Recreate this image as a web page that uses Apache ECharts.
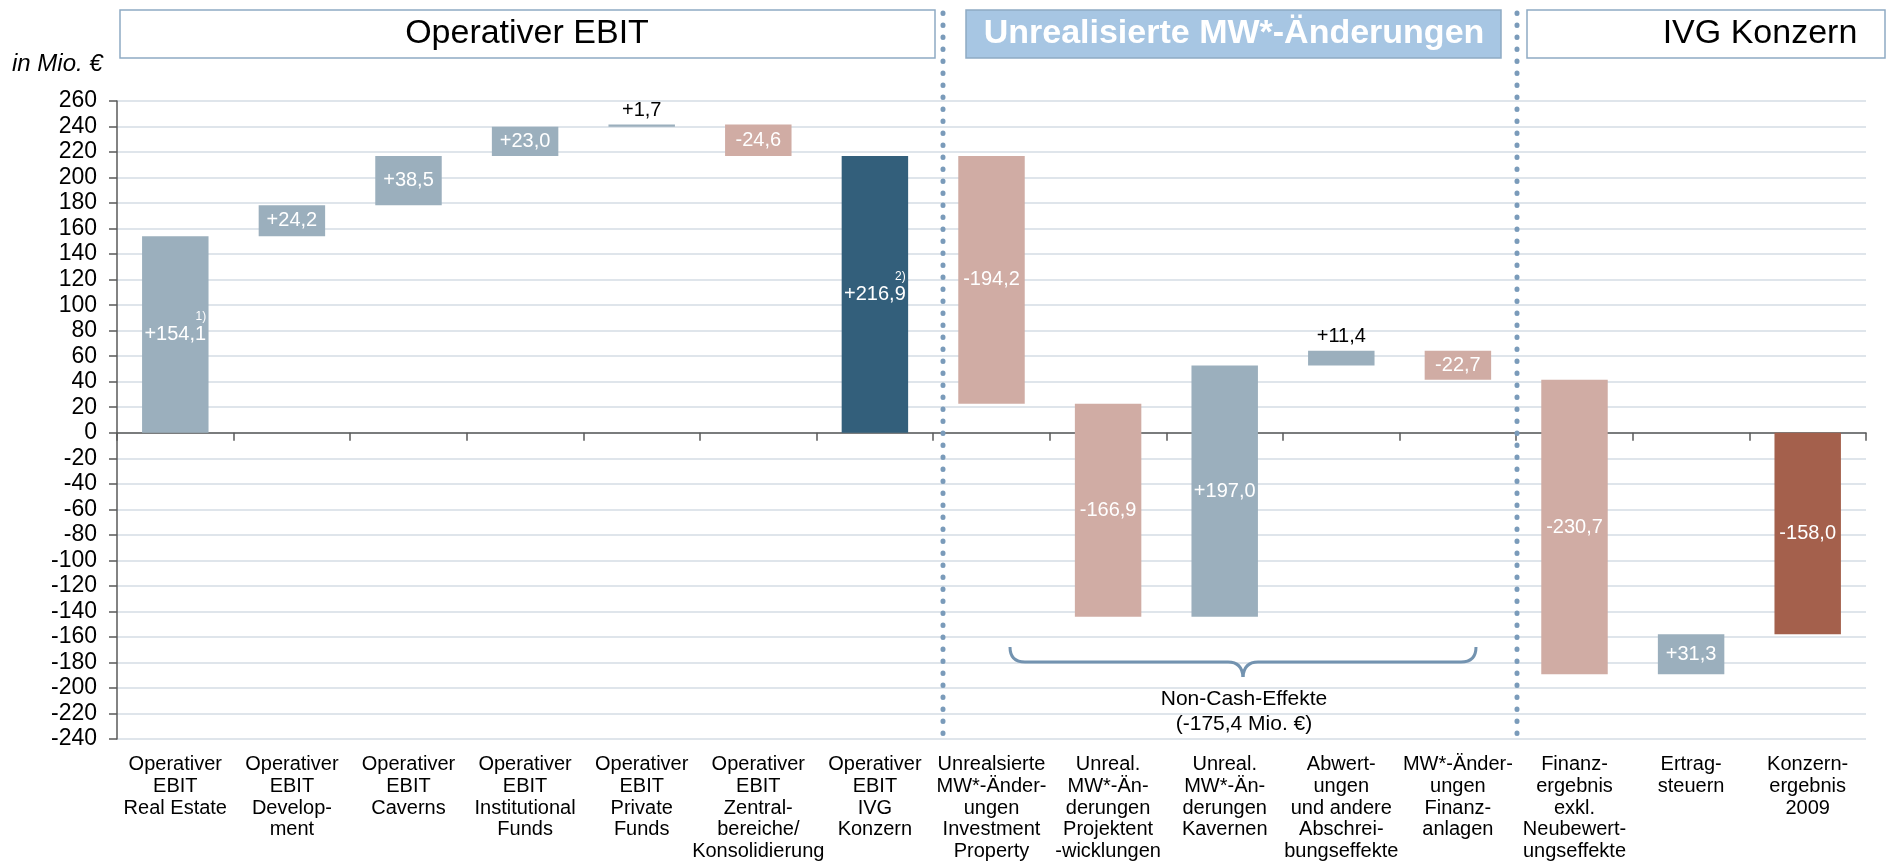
<!DOCTYPE html>
<html>
<head>
<meta charset="utf-8">
<script src="https://cdn.jsdelivr.net/npm/echarts@6/dist/echarts.min.js"></script>
<style>
  html, body { margin: 0; padding: 0; background: #fff; }
  #chart { width: 1886px; height: 866px; }
</style>
</head>
<body>
<div id="chart"></div>
<script>
const categories = [
  "Operativer\nEBIT\nReal Estate",
  "Operativer\nEBIT\nDevelop-\nment",
  "Operativer\nEBIT\nCaverns",
  "Operativer\nEBIT\nInstitutional\nFunds",
  "Operativer\nEBIT\nPrivate\nFunds",
  "Operativer\nEBIT\nZentral-\nbereiche/\nKonsolidierung",
  "Operativer\nEBIT\nIVG\nKonzern",
  "Unrealsierte\nMW*-Änder-\nungen\nInvestment\nProperty",
  "Unreal.\nMW*-Än-\nderungen\nProjektent\n-wicklungen",
  "Unreal.\nMW*-Än-\nderungen\nKavernen",
  "Abwert-\nungen\nund andere\nAbschrei-\nbungseffekte",
  "MW*-Änder-\nungen\nFinanz-\nanlagen",
  "Finanz-\nergebnis\nexkl.\nNeubewert-\nungseffekte",
  "Ertrag-\nsteuern",
  "Konzern-\nergebnis\n2009"
];
// Veränderung je Position in Mio. €; Summenbalken starten bei 0
const deltas = [154.1, 24.2, 38.5, 23.0, 1.7, -24.6, 216.9, -194.2, -166.9, 197.0, 11.4, -22.7, -230.7, 31.3, -158.0];
const isTotal = [false, false, false, false, false, false, true, false, false, false, false, false, false, false, true];
const valueLabels = ["+154,1", "+24,2", "+38,5", "+23,0", "+1,7", "-24,6", "+216,9", "-194,2", "-166,9", "+197,0", "+11,4", "-22,7", "-230,7", "+31,3", "-158,0"];
const footnotes = ["1)", "", "", "", "", "", "2)", "", "", "", "", "", "", "", ""];
const labelAbove = [4, 10];

const FONT = "'Liberation Sans', Arial, sans-serif";
const COLORS = {
  up: "#9BAFBD",
  down: "#D0ACA4",
  totalUp: "#335F7B",
  totalDown: "#A4604C"
};
const BRACE = "#7393B0";

// Waterfall: Start- und Endwert je Balken
let run = 0;
const bars = deltas.map((d, i) => {
  let start, end;
  if (isTotal[i]) {
    start = 0;
    end = d;
  } else {
    start = run;
    end = run + d;
  }
  run = end;
  return [i, start, end];
});

const chart = echarts.init(document.getElementById("chart"));

chart.setOption({
  animation: false,
  grid: {
    left: 117,
    right: 20,
    top: 101,
    bottom: 127
  },
  xAxis: [
    {
      type: "category",
      data: categories,
      position: "bottom",
      axisLine: { onZero: true, lineStyle: { color: "#5a5a5a", width: 1.5 } },
      axisTick: { show: true, length: 8, lineStyle: { color: "#5a5a5a", width: 1.5 } },
      axisLabel: { show: false }
    },
    {
      type: "category",
      data: categories,
      position: "bottom",
      axisLine: { show: false, onZero: false },
      axisTick: { show: false },
      axisLabel: {
        interval: 0,
        margin: 15,
        fontSize: 20,
        lineHeight: 21.6,
        color: "#000",
        fontFamily: FONT
      }
    }
  ],
  yAxis: {
    type: "value",
    min: -240,
    max: 260,
    interval: 20,
    axisLine: { show: true, onZero: false, lineStyle: { color: "#5a5a5a", width: 1.5 } },
    axisTick: { show: true, length: 8, lineStyle: { color: "#5a5a5a", width: 1.5 } },
    axisLabel: {
      margin: 20,
      fontSize: 23,
      color: "#000",
      fontFamily: FONT
    },
    splitLine: { lineStyle: { color: "#D5DDE5", width: 1.5 } }
  },
  series: [
    {
      type: "custom",
      xAxisIndex: 0,
      data: bars,
      renderItem(params, api) {
        const i = api.value(0);
        const p0 = api.coord([i, api.value(1)]);
        const p1 = api.coord([i, api.value(2)]);
        const w = api.size([1, 0])[0] * 0.57;
        const top = Math.min(p0[1], p1[1]);
        const h = Math.max(Math.abs(p1[1] - p0[1]), 2);
        const d = deltas[i];
        let color;
        if (isTotal[i]) color = d >= 0 ? COLORS.totalUp : COLORS.totalDown;
        else color = d >= 0 ? COLORS.up : COLORS.down;

        const above = labelAbove.indexOf(i) >= 0;
        const fn = footnotes[i];
        const txtColor = above ? "#000" : "#fff";
        const text = fn ? "{s|" + fn + "}\n{v|" + valueLabels[i] + "}" : "{v|" + valueLabels[i] + "}";

        return {
          type: "rect",
          shape: { x: p0[0] - w / 2, y: top, width: w, height: h },
          style: { fill: color },
          textContent: {
            style: {
              text: text,
              rich: {
                s: { fontSize: 12, lineHeight: 14, align: "right", fill: txtColor, fontFamily: FONT },
                v: { fontSize: 20, lineHeight: 22, fill: txtColor, fontFamily: FONT }
              }
            }
          },
          textConfig: {
            position: above ? "top" : "inside",
            distance: 3,
            offset: fn ? [0, -7] : [0, 0]
          }
        };
      }
    }
  ],
  graphic: [
    // Kopfzeilen
    {
      type: "rect",
      shape: { x: 120, y: 10, width: 815, height: 48 },
      style: { fill: "#fff", stroke: "#8EAAC4", lineWidth: 1.5 }
    },
    {
      type: "text",
      x: 527, y: 34,
      style: { text: "Operativer EBIT", font: "34px " + FONT, fill: "#000", align: "center", verticalAlign: "middle" }
    },
    {
      type: "rect",
      shape: { x: 966, y: 10, width: 535, height: 48 },
      style: { fill: "#A7C6E3", stroke: "#8EAAC4", lineWidth: 1.5 }
    },
    {
      type: "text",
      x: 1234, y: 34,
      style: { text: "Unrealisierte MW*-Änderungen", font: "bold 34px " + FONT, fill: "#fff", align: "center", verticalAlign: "middle" }
    },
    {
      type: "rect",
      shape: { x: 1527, y: 10, width: 358, height: 48 },
      style: { fill: "#fff", stroke: "#8EAAC4", lineWidth: 1.5 }
    },
    {
      type: "text",
      x: 1760, y: 34,
      style: { text: "IVG Konzern", font: "34px " + FONT, fill: "#000", align: "center", verticalAlign: "middle" }
    },
    {
      type: "text",
      x: 12, y: 64,
      style: { text: "in Mio. €", font: "italic 24px " + FONT, fill: "#000", verticalAlign: "middle" }
    },
    // gepunktete Trennlinien
    {
      type: "line",
      shape: { x1: 943, y1: 13, x2: 943, y2: 738 },
      style: { stroke: "#7A9BBA", lineWidth: 5, lineCap: "round", lineDash: [0.5, 11.5] },
      z: 10
    },
    {
      type: "line",
      shape: { x1: 1517, y1: 13, x2: 1517, y2: 738 },
      style: { stroke: "#7A9BBA", lineWidth: 5, lineCap: "round", lineDash: [0.5, 11.5] },
      z: 10
    },
    // geschweifte Klammer
    {
      type: "bezierCurve",
      shape: { x1: 1010, y1: 647, cpx1: 1010, cpy1: 662, x2: 1025, y2: 662 },
      style: { fill: null, stroke: BRACE, lineWidth: 3 },
      z: 10
    },
    {
      type: "line",
      shape: { x1: 1025, y1: 662, x2: 1228, y2: 662 },
      style: { stroke: BRACE, lineWidth: 3 },
      z: 10
    },
    {
      type: "bezierCurve",
      shape: { x1: 1228, y1: 662, cpx1: 1242, cpy1: 662, x2: 1243, y2: 677 },
      style: { fill: null, stroke: BRACE, lineWidth: 3 },
      z: 10
    },
    {
      type: "bezierCurve",
      shape: { x1: 1243, y1: 677, cpx1: 1244, cpy1: 662, x2: 1258, y2: 662 },
      style: { fill: null, stroke: BRACE, lineWidth: 3 },
      z: 10
    },
    {
      type: "line",
      shape: { x1: 1258, y1: 662, x2: 1461, y2: 662 },
      style: { stroke: BRACE, lineWidth: 3 },
      z: 10
    },
    {
      type: "bezierCurve",
      shape: { x1: 1461, y1: 662, cpx1: 1476, cpy1: 662, x2: 1476, y2: 647 },
      style: { fill: null, stroke: BRACE, lineWidth: 3 },
      z: 10
    },
    {
      type: "text",
      x: 1244, y: 712,
      style: {
        text: "Non-Cash-Effekte\n(-175,4 Mio. €)",
        font: "21px " + FONT,
        lineHeight: 25,
        fill: "#000",
        align: "center",
        verticalAlign: "middle"
      },
      z: 10
    }
  ]
});
</script>
</body>
</html>
